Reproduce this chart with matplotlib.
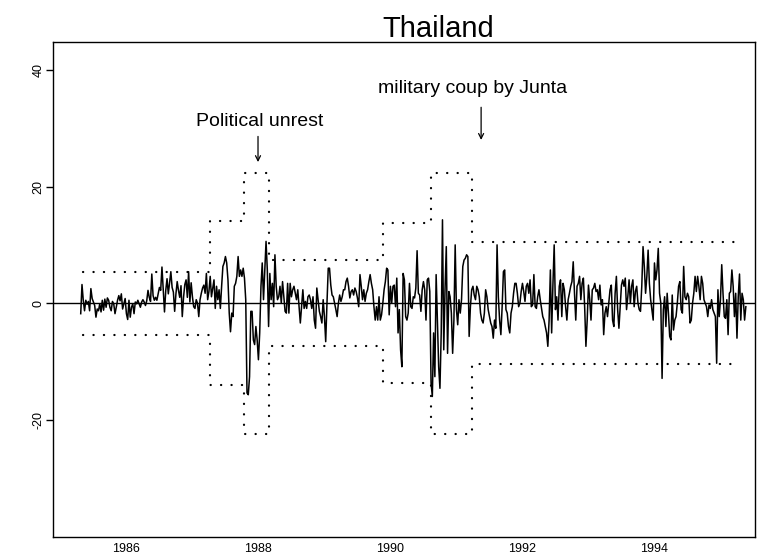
import numpy as np
import matplotlib
matplotlib.use("Agg")
import matplotlib.pyplot as plt

# weekly returns (%), Thailand market, starting late April 1985
START = 1985.314
returns = [
    # 1985 - 1986
    -1.8, 3.2, 0.5, -1.3, 0.5, -0.2, 0.3, -1.3, 2.5, 0.8, 0.2, -0.4, -2.4, -1.0, -1.3, -0.1,
    -1.5, 0.5, -1.2, 0.7, -0.7, 0.9, 0.5, -0.7, -1.3, 0.3, -0.1, -1.8, -0.7, 0.5, 1.3, 0.4,
    1.6, -1.0, -0.1, 0.8, -1.8, -2.8, 0.5, -2.4, -0.7, -0.1, -1.8, 0.2, -0.1, 0.5, -0.1, -0.7,
    0.2, 0.6, 0.2, -0.4, 0.4, 2.2, 1.0, 0.3, 5.0, 1.3, 0.5, 1.0, 0.5, 1.6, 2.7, 2.2,
    6.2, 2.2, -1.5, 2.2, 4.2, 1.6, 3.5, 5.4, 2.7, 1.9, -1.4, 1.6, 3.7, 2.2, 1.0, 3.0,
    -2.3, 1.0, 3.2, 4.0, 1.0, 5.4, 0.2, 3.5,
    # 1987 - 1988
    1.1, -0.6, -0.9, 0.6, 0.0, -2.3,
    0.6, 1.7, 2.6, 3.1, 1.7, 5.1, 0.6, 2.0,
    4.6, 1.1, 2.6, 4.0, -0.9, 2.9, 0.6, 2.3,
    -0.9, 2.9, 6.3, 6.9, 8.0, 6.9, 4.0, -1.7,
    -4.9, -1.7, -2.3, 2.9, 3.4, 4.6, 8.0, 4.6,
    5.7, 4.6, 6.0, 4.3, 0.6, -15.4, -15.7, -12.6,
    -1.4, -1.4, -6.3, -7.1, -4.0, -6.3, -9.7, -5.1,
    2.9, 6.9, 0.6, 5.7, 10.6, 5.7, -4.0, 5.1,
    0.6, 3.4, -0.6, 8.3, 2.9, 0.6, 1.1, 2.9,
    0.0, 3.7, 1.1, -1.4, -1.7, 3.4, -1.7, 3.4,
    1.1, 2.3, 2.9, 1.7, 0.6, 2.3, -0.6,
    # 1988 - 1989
    -3.4, -0.6, 2.3, -0.9, 0.3, -0.9, 1.1, 1.4,
    0.6, -0.9, 1.1, -2.9, -4.3, 2.6, 0.6, -1.4,
    -2.3, -3.4, 0.6, -2.3, -6.6, 0.0, 6.0, 6.0,
    3.1, 1.4, 1.1, 0.0, -1.1, -2.3, 0.0, 1.4,
    0.3, 1.1, 2.3, 2.3, 3.7, 4.3, 2.9, 0.9,
    2.0, 2.3, 1.4, 2.6, 2.0, 0.9, -0.6, 4.9,
    2.9, 0.6, 2.3, 0.3, 1.7, 2.3, 3.7, 4.9,
    3.4, 2.3, -0.6, -2.9, -0.6, -2.9, 1.1, -2.9,
    -2.0, 0.0, 2.3, 3.7, 6.0, 5.7, -2.0, 2.9,
    0.0, 2.9, 3.1, -0.6, 4.3, -5.1, -1.1, -8.0,
    -10.9, 5.1, 4.0, -2.3, -2.9, -1.7, 3.4,
    # 1990 - 1991
    -0.6, -0.9, 1.1, 0.9, 2.6, 9.0, 1.7, 1.4,
    -1.4, 2.3, 3.7, 2.3, -2.9, 4.0, 4.3, 2.0,
    -13.7, -16.0, -5.1, -12.6, 4.9, -2.9, -10.9, -14.6,
    -5.1, 14.3, -8.0, 2.3, 9.7, -8.6, 2.0, 1.1,
    -1.7, -8.6, -2.9, 10.0, -1.1, -3.7, 0.6, -1.7,
    0.6, 6.3, 7.4, 7.7, 8.3, 8.0, -5.7, -0.6,
    2.3, 2.9, 1.4, 0.6, 2.9, 2.3, 1.1, -1.7,
    -2.9, -3.4, -1.7, 2.3, 1.1, -1.1, -2.3, -3.4,
    -4.0, -6.0, -2.9, -4.3, 10.0, 1.1, -2.9, -5.4,
    -0.6, 5.4, 5.7, -1.1, -1.7, -4.0, -5.1, -1.7,
    -0.6, 1.7, 3.4, 3.4, 1.7, -0.6, 0.0,
    # 1992 - 1993
    2.0, 3.4, 2.0, 0.3, 2.9, 3.4, 1.7, 4.0, -0.6, -0.3,
    4.9, -0.6, -0.9, 1.1, 2.3, 0.6, -0.9, -2.3, -2.9, -4.0,
    -5.1, -7.4, -2.9, 5.7, -5.1, 3.1, 10.0, -1.1, 1.1, -2.9,
    2.9, 4.0, -2.3, 3.4, 2.3, -0.6, -2.9, 0.6, 1.7, 2.9,
    3.7, 7.1, 1.7, -2.9, 2.9, 3.4, 4.6,
    0.6, 3.4, 4.3, -0.6, -7.4, -2.9, 3.1, 0.6, -2.9, 2.3,
    2.6, 3.4, 2.0, 2.3, 0.6, 3.1, -0.3, 0.6, -5.4, -1.7,
    -0.6, -2.3, 0.0, 2.3, 3.1, -2.9, -4.0, 1.7, 4.6, -1.1,
    -4.3, -0.6, 3.1, 4.0, 2.9, 4.3, -1.1, 1.1, 4.0, 0.0, 2.9,
    # 1994 - 1995
    4.0, -0.6, 2.0, 2.9, 0.0, -1.1, -1.4, 2.9, 9.7, 6.3, 1.7, 4.6, 9.1, 3.4,
    0.6, -1.1, -2.9, 6.9, 4.0, 5.7, 9.4, 1.7, 0.0,
    -12.9, -1.1, 1.1, -4.0, 1.7, -1.7, -5.7, -6.3,
    1.4, -4.6, -2.9, -2.3, 0.0, 2.9, 3.7, -1.1,
    -1.7, 6.3, 1.1, 0.6, 1.7, 1.1, -3.4,
    -2.9, 0.0, 1.7, 4.6, 2.0, 4.6, 2.9, 0.6,
    4.6, 3.4, 0.6, 0.0, -0.6, -2.3, -0.3,
    -0.9, 0.6, -1.1, -1.7, -2.3, -10.3, 2.3,
    -2.3, 0.6, 6.6, 1.7, -2.3, -2.6, 0.6, -5.4,
    1.7, 2.0, 5.7, 2.9, -2.3, 1.7, -6.0, 1.1,
    5.0, -2.9, 1.7, 0.6, -2.9, -0.6,
]

# regime bands: change points (decimal years) and half-width of each regime
band_edges = [1985.35, 1987.27, 1987.79, 1988.16, 1989.90, 1990.62, 1991.24, 1995.21]
band_width = [5.4, 14.1, 22.4, 7.4, 13.7, 22.4, 10.5]

events = ["Political unrest", "military coup by Junta"]
event_x = [1988.0, 1991.38]
event_text_x = [1988.03, 1991.25]
event_text_y = [31.2, 36.8]
event_arrow = [(28.6, 24.2), (33.6, 28.0)]

years = [1986, 1988, 1990, 1992, 1994]
yticks = [-20, 0, 20, 40]

t = START + np.arange(len(returns)) / 52.0

fig = plt.figure(figsize=(7.67, 5.56), dpi=100)
ax = fig.add_axes([0.0691, 0.0342, 0.9153, 0.8903])

ax.plot(t, returns, color="black", lw=1.1)
ax.axhline(0, color="black", lw=1.0)

# dotted step bands
xs = np.repeat(band_edges, 2)[1:-1]
hw = np.repeat(band_width, 2)
dot = (0, (0.1, 4.6))
for sign in (1, -1):
    ax.plot(xs, sign * hw, color="black", lw=1.6, ls=dot, dash_capstyle="round")

for name, x, tx, ty, (y0, y1) in zip(events, event_x, event_text_x, event_text_y, event_arrow):
    ax.text(tx, ty, name, ha="center", va="center", fontsize=14, family="Liberation Sans")
    ax.annotate("", xy=(x, y1), xytext=(x, y0),
                arrowprops=dict(arrowstyle="->", color="black", lw=0.9,
                                mutation_scale=9, shrinkA=0, shrinkB=0))

ax.set_xlim(1984.894, 1995.53)
ax.set_ylim(-40.1, 44.8)
ax.set_xticks(years)
ax.set_xticklabels([str(y) for y in years], fontsize=9, family="Liberation Sans")
ax.set_yticks(yticks)
ax.set_yticklabels([str(v) for v in yticks], fontsize=9, family="Liberation Sans",
                   rotation=90, va="center")
ax.tick_params(axis="x", length=0, pad=4)
ax.tick_params(axis="y", length=5, width=1, pad=1)
for s in ax.spines.values():
    s.set_linewidth(1.0)

fig.text(0.572, 0.9335, "Thailand", ha="center", va="baseline", fontsize=21,
         family="Liberation Sans")

fig.savefig("out.png", dpi=100)
